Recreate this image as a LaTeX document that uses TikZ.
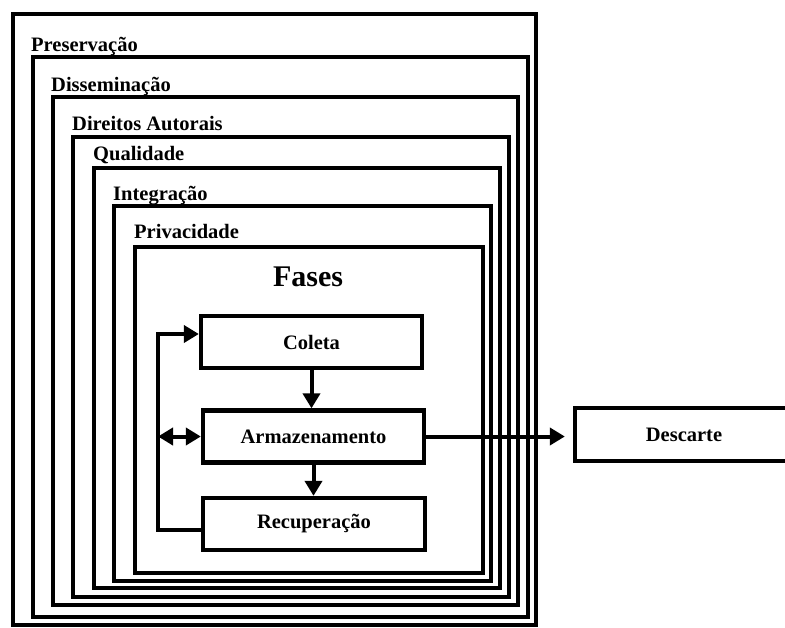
\documentclass[tikz,border=0pt]{standalone}
\usepackage{fontspec}
\setmainfont{Liberation Serif}
\usetikzlibrary{arrows.meta}
\tikzset{
  layer/.style={draw=black, line width=4.3pt},
  lbl/.style={anchor=base west, inner sep=0pt, font=\fontsize{20.5}{24}\selectfont\bfseries},
  box/.style={draw=black, line width=4.3pt, inner sep=0pt, minimum height=52pt,
    font=\fontsize{20.5}{24}\selectfont\bfseries},
  conn/.style={line width=4pt, -{Triangle[length=15pt,width=17pt]}},
  dconn/.style={line width=4pt, {Triangle[length=15pt,width=17pt]}-{Triangle[length=15pt,width=17pt]}},
}
\begin{document}
\begin{tikzpicture}[x=1pt,y=-1pt]
\useasboundingbox (0,0) rectangle (785,627);
\clip (0,0) rectangle (785,627);
% nested layers
\draw[layer] (13,14) rectangle (536,625);
\draw[layer] (33,57) rectangle (528,617);
\draw[layer] (53,97) rectangle (518,605);
\draw[layer] (73,137) rectangle (509,597);
\draw[layer] (94,168) rectangle (500,588);
\draw[layer] (114,206) rectangle (491,581);
\draw[layer] (135,247) rectangle (483,573);
% layer labels
\node[lbl] (lpres) at (31,51) {Preservação};
\node[lbl] (ldiss) at (51,91) {Disseminação};
\node[lbl] (ldir) at (72,130) {Direitos Autorais};
\node[lbl] (lqual) at (93,160) {Qualidade};
\node[lbl] (lint) at (113,200) {Integração};
\node[lbl] (lpriv) at (134,238) {Privacidade};
% title
\node[anchor=base, inner sep=0pt, font=\fontsize{30}{36}\selectfont\bfseries] (fases) at (308,286) {Fases};
% phase boxes
\node[box, minimum width=221pt] (coleta) at (311.5,342) {Coleta};
\node[box, minimum width=221pt] (armaz) at (313.5,436.5) {Armazenamento};
\node[box, minimum width=222pt] (recup) at (314,524) {Recuperação};
\node[box, minimum width=218pt, minimum height=53pt] (descarte) at (684,434.5) {Descarte};
% connectors
\coordinate (lt) at (158,334);
\coordinate (lb) at (158,530);
\draw[conn] (coleta.south) -- (coleta.south |- armaz.north);
\draw[conn] (armaz.south) -- (armaz.south |- recup.north);
\draw[line width=4pt, -{Triangle[length=15pt,width=17pt]}] (recup.west |- lb) -- (lb) -- (lt) -- (coleta.west |- lt);
\draw[dconn] (lt |- armaz.west) -- (armaz.west);
\draw[conn, shorten >=8pt] (armaz.east) -- (armaz.east -| descarte.west);
\end{tikzpicture}
\end{document}
